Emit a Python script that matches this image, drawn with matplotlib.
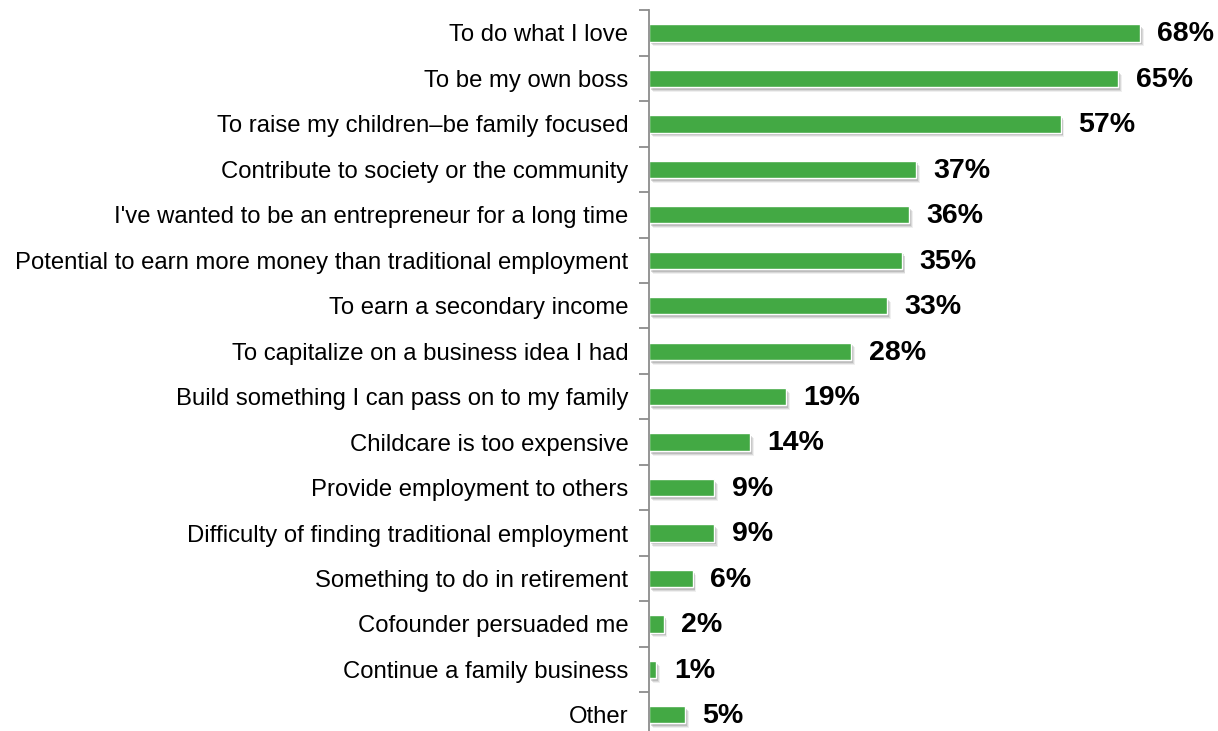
import matplotlib.pyplot as plt
import matplotlib.patheffects as pe

plt.rcParams['font.family'] = ['Liberation Sans', 'DejaVu Sans']

reasons = [
    "To do what I love",
    "To be my own boss",
    "To raise my children\u2013be family focused",
    "Contribute to society or the community",
    "I've wanted to be an entrepreneur for a long time",
    "Potential to earn more money than traditional employment",
    "To earn a secondary income",
    "To capitalize on a business idea I had",
    "Build something I can pass on to my family",
    "Childcare is too expensive",
    "Provide employment to others",
    "Difficulty of finding traditional employment",
    "Something to do in retirement",
    "Cofounder persuaded me",
    "Continue a family business",
    "Other",
]
shares = [68, 65, 57, 37, 36, 35, 33, 28, 19, 14, 9, 9, 6, 2, 1, 5]

fig = plt.figure(figsize=(12.18, 7.31), dpi=100)
ax = fig.add_axes([0.533, -0.009, 0.467, 0.995])

pos = list(range(len(reasons)))
bars = ax.barh(pos, shares, height=0.38, color='#43a944',
               edgecolor='white', linewidth=1.0)
# soft drop shadow: a few stacked faint offsets
shadow = [pe.SimplePatchShadow(offset=(dx, -dy), shadow_rgbFace='#808080', alpha=a)
          for dx, dy, a in [(2.5, 3.5, 0.12), (2, 2.8, 0.2), (1.5, 2, 0.3)]]
for b in bars:
    b.set_path_effects(shadow + [pe.Normal()])

for p, v in zip(pos, shares):
    ax.annotate(f"{v}%", xy=(v, p), xytext=(12.5, -1), textcoords='offset points',
                va='center', ha='left', fontsize=20.5, fontweight='bold', color='black')

ax.set_xlim(0, 78.8)
ax.set_ylim(len(reasons) - 0.5, -0.5)

ax.set_yticks(pos)
ax.set_yticklabels(reasons, fontsize=17.2)
ax.set_yticks([i - 0.5 for i in range(len(reasons) + 1)], minor=True)
ax.tick_params(axis='y', which='major', length=0, pad=15)
ax.tick_params(axis='y', which='minor', length=7, width=1.3, color='#8c8c8c')
ax.set_xticks([])

for side in ['top', 'right', 'bottom']:
    ax.spines[side].set_visible(False)
ax.spines['left'].set_color('#8c8c8c')
ax.spines['left'].set_linewidth(1.3)

fig.savefig('out.png', dpi=100)
